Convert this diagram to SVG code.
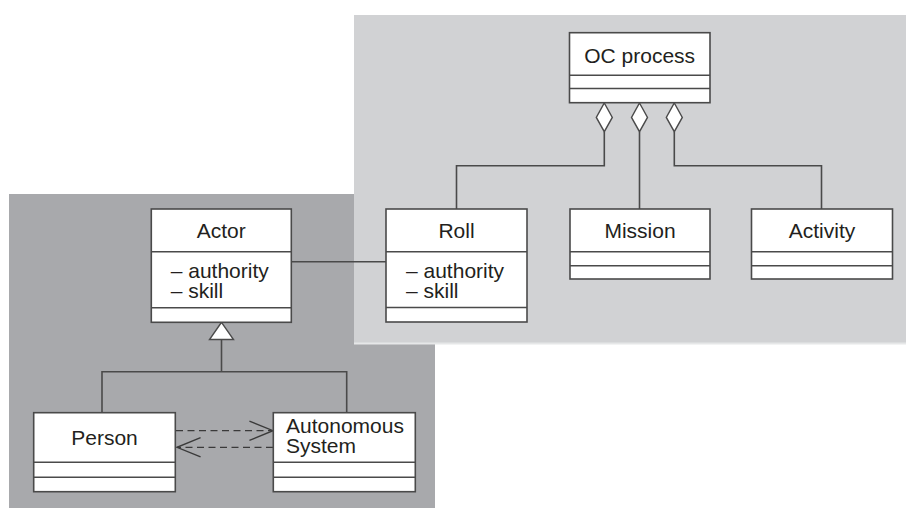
<svg xmlns="http://www.w3.org/2000/svg" width="906" height="509" viewBox="0 0 906 509">
<style>
.box{fill:#fff;stroke:#4a4a4a;stroke-width:1.6}
.div{stroke:#4a4a4a;stroke-width:1.4;fill:none}
.ln{stroke:#4a4a4a;stroke-width:1.6;fill:none}
.dash{stroke:#3a3a3a;stroke-width:1.3;fill:none;stroke-dasharray:7 4.5}
.head{fill:#fff;stroke:#4a4a4a;stroke-width:1.4}
text{font-family:"Liberation Sans",Arial,Helvetica,sans-serif;font-size:21px;fill:#231f20}
.c{text-anchor:middle}
</style>
<defs>
<marker id="open" markerUnits="userSpaceOnUse" markerWidth="30" markerHeight="30" viewBox="-25 -12 28 24" refX="0" refY="0" orient="auto">
<path d="M-22,-9 L0,0 L-22,9" fill="none" stroke="#3a3a3a" stroke-width="1.3"/>
</marker>
</defs>
<rect x="0" y="0" width="906" height="509" fill="#fff"/>
<rect id="panel-left" x="9" y="194" width="426" height="314" fill="#a8a9ac"/>
<rect id="panel-right" x="354" y="15" width="552" height="328" fill="#d1d2d4"/>
<line x1="354" y1="343.5" x2="906" y2="343.5" stroke="#e6e7e8" stroke-width="2"/>

<g id="connectors">
<line class="ln" x1="292" y1="261.7" x2="386" y2="261.7"/>
<polyline class="ln" points="604.3,131.7 604.3,165.7 456.5,165.7 456.5,209"/>
<line class="ln" x1="639.5" y1="131.7" x2="639.5" y2="209"/>
<polyline class="ln" points="674.3,131.7 674.3,165.7 821.5,165.7 821.5,209"/>
<polygon class="head" points="604.3,103 612.3,117.4 604.3,131.7 596.3,117.4"/>
<polygon class="head" points="639.5,103 647.5,117.4 639.5,131.7 631.5,117.4"/>
<polygon class="head" points="674.3,103 682.3,117.4 674.3,131.7 666.3,117.4"/>
<polyline class="ln" points="221.5,339.5 221.5,371.7"/>
<polyline class="ln" points="102,412.7 102,371.7 346.7,371.7 346.7,412.7"/>
<polygon class="head" points="221.5,322.3 233.5,339.5 209.5,339.5"/>
<line class="dash" x1="176" y1="430.7" x2="273" y2="430.7" marker-end="url(#open)"/>
<line class="dash" x1="273" y1="447.3" x2="177" y2="447.3" marker-end="url(#open)"/>
</g>

<g id="oc-process">
<rect class="box" x="569.5" y="32.7" width="140.5" height="70"/>
<line class="div" x1="569.5" y1="75.3" x2="710" y2="75.3"/>
<line class="div" x1="569.5" y1="88.5" x2="710" y2="88.5"/>
<text class="c" x="639.7" y="63.3">OC process</text>
</g>

<g id="roll">
<rect class="box" x="386" y="209" width="141" height="113"/>
<line class="div" x1="386" y1="251.7" x2="527" y2="251.7"/>
<line class="div" x1="386" y1="307.5" x2="527" y2="307.5"/>
<text class="c" x="456.5" y="238.3">Roll</text>
<text x="406" y="277.7">– authority</text>
<text x="406" y="298">– skill</text>
</g>

<g id="mission">
<rect class="box" x="570" y="209" width="140" height="70"/>
<line class="div" x1="570" y1="251.7" x2="710" y2="251.7"/>
<line class="div" x1="570" y1="265.7" x2="710" y2="265.7"/>
<text class="c" x="640" y="238.3">Mission</text>
</g>

<g id="activity">
<rect class="box" x="751.5" y="209" width="141" height="70"/>
<line class="div" x1="751.5" y1="251.7" x2="892.5" y2="251.7"/>
<line class="div" x1="751.5" y1="265.7" x2="892.5" y2="265.7"/>
<text class="c" x="822" y="238.3">Activity</text>
</g>

<g id="actor">
<rect class="box" x="151.3" y="209" width="140" height="113.3"/>
<line class="div" x1="151.3" y1="251.7" x2="291.3" y2="251.7"/>
<line class="div" x1="151.3" y1="307.7" x2="291.3" y2="307.7"/>
<text class="c" x="221.3" y="238.3">Actor</text>
<text x="170.7" y="277.7">– authority</text>
<text x="170.7" y="298">– skill</text>
</g>

<g id="person">
<rect class="box" x="33.7" y="412.7" width="141.6" height="79"/>
<line class="div" x1="33.7" y1="462.3" x2="175.3" y2="462.3"/>
<line class="div" x1="33.7" y1="477.3" x2="175.3" y2="477.3"/>
<text class="c" x="104.5" y="445">Person</text>
</g>

<g id="autonomous-system">
<rect class="box" x="273.3" y="412.7" width="142" height="79"/>
<line class="div" x1="273.3" y1="462.3" x2="415.3" y2="462.3"/>
<line class="div" x1="273.3" y1="477.3" x2="415.3" y2="477.3"/>
<text x="286" y="432.7">Autonomous</text>
<text x="286" y="453.3">System</text>
</g>
</svg>
